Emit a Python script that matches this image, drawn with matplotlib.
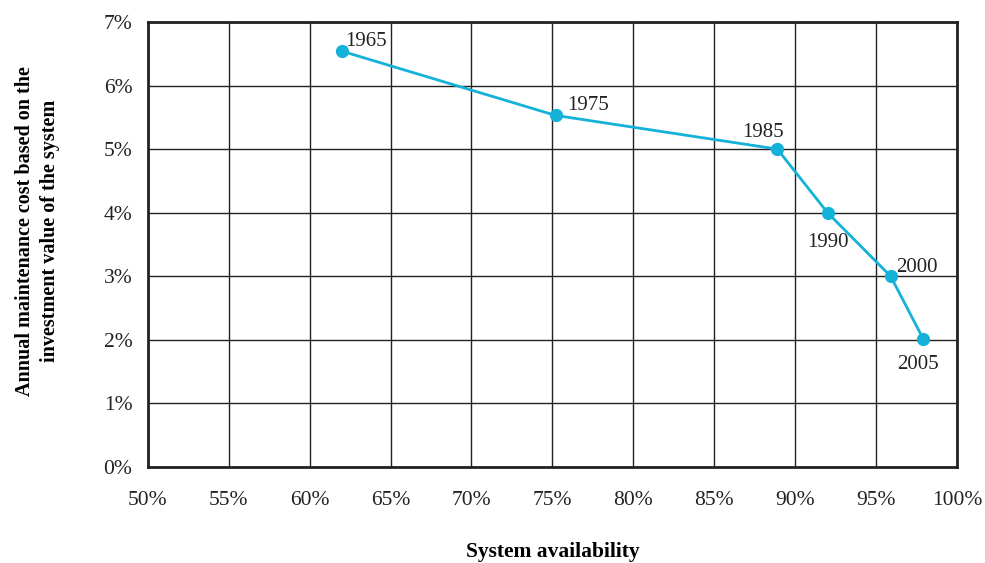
import matplotlib
matplotlib.use("Agg")
from matplotlib import pyplot as plt
from matplotlib.ticker import FuncFormatter

# data
years = ['1965', '1975', '1985', '1990', '2000', '2005']
availability = [62.0, 75.2, 88.9, 92.0, 95.9, 97.9]
maint_cost = [6.54, 5.53, 5.0, 4.0, 3.0, 2.02]

plt.rcParams['font.family'] = ['Liberation Serif', 'DejaVu Serif']

fig = plt.figure(figsize=(9.85, 5.63), dpi=100)
ax = fig.add_axes([0.150, 0.1705, 0.8216, 0.7905])

ax.plot(availability, maint_cost, color='#14b1d9', linewidth=2,
        marker='o', markersize=8.5, zorder=3)

# label offsets in points
offsets = [(2, 4), (8, 4), (-25, 9), (-14.5, -25), (4, 3), (-19, -22)]
for yr, xv, yv, off in zip(years, availability, maint_cost, offsets):
    ax.annotate(yr, (xv, yv), xytext=off, textcoords='offset points',
                fontsize=15, color='#222222')

ax.set_xlim(50, 100)
ax.set_ylim(0, 7)
ax.set_xticks(range(50, 101, 5))
ax.set_yticks(range(0, 8))
ax.xaxis.set_major_formatter(FuncFormatter(lambda v, p: '%d%%' % v))
ax.yaxis.set_major_formatter(FuncFormatter(lambda v, p: '%d%%' % v))
ax.tick_params(axis='both', length=0, labelsize=15.5, colors='#222222')
ax.tick_params(axis='x', pad=17)
ax.tick_params(axis='y', pad=11)

ax.grid(True, color='#222222', linewidth=1)
ax.set_axisbelow(True)
for s in ax.spines.values():
    s.set_linewidth(2)
    s.set_color('#222222')

ax.set_xlabel('System availability', fontsize=15.5, fontweight='bold')
ax.set_ylabel('Annual maintenance cost based on the\ninvestment value of the system',
              fontsize=14.5, fontweight='bold', linespacing=1.35)
ax.xaxis.set_label_coords(0.5, -0.168)
ax.yaxis.set_label_coords(-0.108, 0.53)

fig.savefig('out.png', dpi=100)
